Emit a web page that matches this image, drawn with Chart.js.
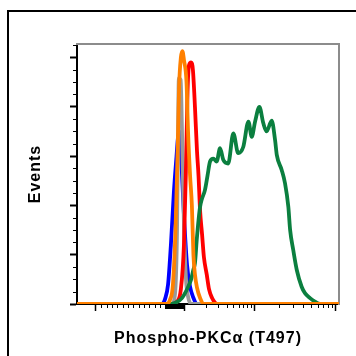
<!DOCTYPE html>
<html>
<head>
<meta charset="utf-8">
<script src="https://cdn.jsdelivr.net/npm/chart.js@4/dist/chart.umd.min.js"></script>
<style>
  html, body { margin: 0; padding: 0; background: #fff; overflow: hidden; }
  #wrap { position: relative; width: 356px; height: 356px; overflow: hidden; }
  #frame { position: absolute; left: 7px; top: 10px; width: 500px; height: 500px; border: 2px solid #000; }
  #chart { position: absolute; left: 0; top: 0; }
</style>
</head>
<body>
<div id="wrap">
  <div id="frame"></div>
  <canvas id="chart" width="356" height="356"></canvas>
</div>
<script>
// x values are display channels (0-1024), y values are event counts (axis units)
const blueX = [0, 332, 344, 356, 367, 379, 389, 395, 401, 406, 418, 430, 442, 453, 469, 1024]
const blueY = [0, 0, 0.1, 0.4, 1.2, 2.3, 3.0, 3.4, 3.5, 3.1, 1.8, 0.8, 0.35, 0.15, 0, 0]

const grayX = [0, 371, 383, 391, 395, 398, 405, 410, 418, 426, 434, 446, 1024]
const grayY = [0, 0, 0.2, 1.5, 3.5, 4.58, 4.55, 3.6, 1.6, 0.5, 0.15, 0, 0]

const redX = [0, 371, 391, 406, 418, 426, 432, 438, 446, 453, 461, 469, 475, 481, 489, 496, 507, 516, 528, 539, 551, 1024]
const redY = [0, 0, 0.05, 0.3, 1.2, 2.8, 4.3, 4.85, 4.9, 4.75, 4.0, 3.1, 2.6, 1.9, 1.4, 0.95, 0.6, 0.3, 0.12, 0.03, 0, 0]

const greenX = [0, 364, 387, 410, 430, 446, 455, 461, 468, 475, 481, 487, 500, 510, 520, 533, 546, 559, 572, 591, 611, 630, 650, 670, 683, 696, 713, 728, 741, 761, 774, 781, 800, 813, 826, 833, 845, 859, 878, 891, 911, 930, 950, 1024]
const greenY = [0, 0, 0.03, 0.12, 0.3, 0.5, 0.7, 0.83, 1.3, 1.7, 1.97, 2.11, 2.31, 2.6, 2.89, 2.95, 2.89, 3.16, 2.92, 2.85, 3.46, 3.06, 3.19, 3.7, 3.39, 3.7, 4.0, 3.67, 3.5, 3.72, 3.33, 3.02, 2.72, 2.45, 1.97, 1.5, 1.1, 0.69, 0.35, 0.22, 0.12, 0.05, 0, 0]

const orangeX = [0, 348, 363, 375, 385, 393, 399, 406, 412, 418, 428, 434, 442, 449, 455, 461, 469, 481, 496, 1024]
const orangeY = [0, 0, 0.08, 0.4, 1.5, 3.0, 4.4, 5.0, 5.13, 4.95, 4.5, 3.5, 2.6, 2.0, 1.0, 0.6, 0.33, 0.12, 0, 0]

// axis ticks (no labels on this plot)
const xMajor = [74, 422, 692, 1012]
const xLinMinor = [95, 116, 137, 157, 178, 199, 220, 241, 262, 283, 303, 324]
const yMajor = [0, 1, 2, 3, 4, 5]
const xLabel = 'Phospho-PKCα (T497)'
const yLabel = 'Events'

function pts(xs, ys) {
    return xs.map((x, i) => ({x: x, y: ys[i]}))
}

function series(xs, ys, color) {
    return {
        data: pts(xs, ys),
        borderColor: color,
        borderWidth: 3.8,
        pointRadius: 0,
        fill: false,
        cubicInterpolationMode: 'monotone'
    }
}

// minor ticks: even ones on the left, dense cluster round zero, log decades after
let xMinor = xLinMinor.slice()
for (let c = 344; c <= 420; c += 4) xMinor.push(c)
for (let d = 1; d < xMajor.length - 1; d++) {
    const a = xMajor[d], b = xMajor[d + 1]
    for (let k = 2; k <= 9; k++) xMinor.push(a + (b - a) * Math.log10(k))
}
let yMinor = []
for (let v = 0.25; v < 5.27; v += 0.25) if (v % 1 !== 0) yMinor.push(v)

const minorTicks = {
    id: 'minorTicks',
    beforeDraw(chart) {
        chart.ctx.letterSpacing = '1px'
    },
    afterDraw(chart) {
        const ctx = chart.ctx
        const xs = chart.scales.x, ys = chart.scales.y
        const area = chart.chartArea
        ctx.save()
        ctx.strokeStyle = '#000'
        ctx.lineWidth = 1
        ctx.beginPath()
        for (const v of yMinor) {
            const py = Math.round(ys.getPixelForValue(v)) + 0.5
            ctx.moveTo(area.left - 4, py)
            ctx.lineTo(area.left, py)
        }
        for (const v of xMinor) {
            const px = Math.round(xs.getPixelForValue(v)) + 0.5
            const len = (v > 340 && v < 421) ? 5 : 4
            ctx.moveTo(px, area.bottom)
            ctx.lineTo(px, area.bottom + len)
        }
        ctx.stroke()
        ctx.restore()
    }
}

const titleFont = {family: "'Liberation Sans', Arial, sans-serif", size: 16, weight: 'bold'}

new Chart(document.getElementById('chart'), {
    type: 'line',
    data: {
        datasets: [
            series(orangeX, orangeY, '#ff8000'),
            series(greenX, greenY, '#0b7f3f'),
            series(redX, redY, '#ff0000'),
            series(grayX, grayY, '#999999'),
            series(blueX, blueY, '#0000ff')
        ]
    },
    options: {
        responsive: false,
        animation: false,
        layout: { padding: { top: 44, right: 17, left: 0, bottom: 0 } },
        plugins: { legend: { display: false }, tooltip: { enabled: false } },
        scales: {
            x: {
                type: 'linear',
                min: 0,
                max: 1024,
                afterFit: (s) => { s.height = 52 },
                afterBuildTicks: (s) => { s.ticks = xMajor.map(v => ({value: v})) },
                ticks: { display: false },
                grid: { drawOnChartArea: false, tickLength: 7, tickWidth: 1.5, tickColor: '#000' },
                border: { color: '#000', width: 2 },
                title: { display: true, text: xLabel, color: '#000', font: titleFont, padding: { bottom: 8 } }
            },
            y: {
                type: 'linear',
                min: 0,
                max: 5.274,
                afterFit: (s) => { s.width = 77 },
                afterBuildTicks: (s) => { s.ticks = yMajor.map(v => ({value: v})) },
                ticks: { display: false },
                grid: { drawOnChartArea: false, tickLength: 7, tickWidth: 2, tickColor: '#000' },
                border: { color: '#000', width: 2 },
                title: { display: true, text: yLabel, color: '#000', font: titleFont, padding: { top: 26 } }
            },
            xTop: {
                type: 'linear',
                position: 'top',
                min: 0,
                max: 1024,
                afterFit: (s) => { s.height = 0 },
                ticks: { display: false },
                grid: { display: false, drawTicks: false },
                border: { color: '#8c8c8c', width: 2 }
            },
            yRight: {
                type: 'linear',
                position: 'right',
                min: 0,
                max: 5.274,
                afterFit: (s) => { s.width = 0 },
                ticks: { display: false },
                grid: { display: false, drawTicks: false },
                border: { color: '#8c8c8c', width: 2 }
            }
        }
    },
    plugins: [minorTicks]
})
</script>
</body>
</html>
